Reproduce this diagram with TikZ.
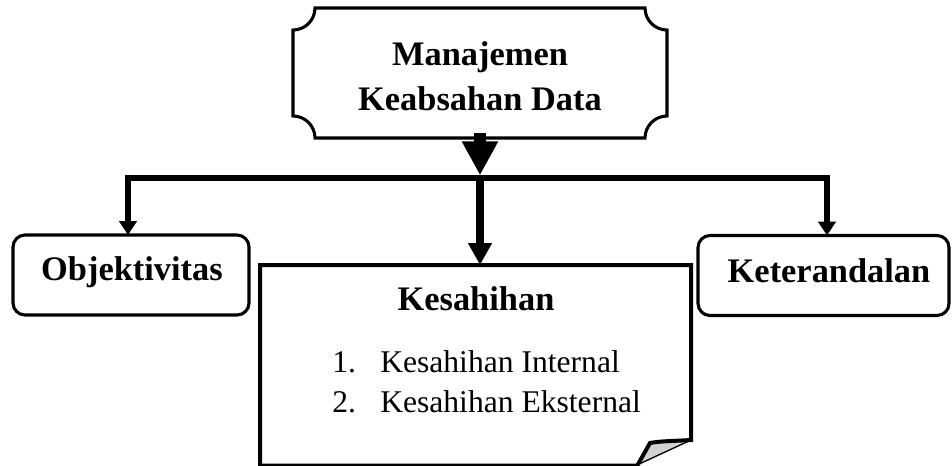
\documentclass[tikz,border=0pt]{standalone}
\usepackage{fontspec}
\setmainfont{Liberation Serif}
\usetikzlibrary{arrows.meta}
\begin{document}
\begin{tikzpicture}[x=0.75pt,y=-0.75pt,
  sidebox/.style={draw, line width=2.3pt, rounded corners=9pt, minimum height=60pt, inner sep=0pt, outer sep=0pt},
  ghost/.style={inner sep=0pt, outer sep=0pt},
  boldlbl/.style={font=\fontsize{25.8}{30}\selectfont\bfseries, anchor=base, inner sep=0pt},
  plainlbl/.style={font=\fontsize{23.7}{28}\selectfont, anchor=base west, inner sep=0pt},
  trunk/.style={line width=4pt},
  sidetip/.style={-{Triangle[length=10.5pt,width=13pt]}}]
\useasboundingbox (0,0) rectangle (952,465);

% top plaque
\node[ghost, minimum width=280.5pt, minimum height=97.5pt] (mkd) at (480,73) {};
\draw[line width=2.3pt]
  (315,8) -- (645,8)
  .. controls (645,20.1) and (654.9,30) .. (667,30) -- (667,116)
  .. controls (654.9,116) and (645,125.9) .. (645,138) -- (315,138)
  .. controls (315,125.9) and (305.1,116) .. (293,116) -- (293,30)
  .. controls (305.1,30) and (315,20.1) .. (315,8) -- cycle;
\node[boldlbl] (mkdA) at (480,65) {Manajemen};
\node[boldlbl] (mkdB) at (480,110) {Keabsahan Data};

% side boxes
\node[sidebox, minimum width=177pt] (obj) at (131,275) {};
\node[boldlbl] (objt) at (132,280) {Objektivitas};
\node[sidebox, minimum width=188.25pt] (ket) at (823.5,275.5) {};
\node[boldlbl] (kett) at (829,282) {Keterandalan};

% Kesahihan page
\node[ghost, minimum width=323.25pt, minimum height=150pt] (kes) at (475.5,365) {};
\fill[gray!35] (650,443) -- (637,465) -- (691,440) .. controls (675,441) and (660,441) .. (650,443);
\draw[line width=1pt] (637,465) -- (691,440);
\draw[line width=3pt, line join=miter] (637,465.5) -- (260,465.5) -- (260,265) -- (691,265) -- (691,440)
  .. controls (675,441) and (660,441) .. (650,443) -- (637,466);
\node[boldlbl] (kest) at (476,310) {Kesahihan};
\node[plainlbl] (n1) at (332,372) {1.};
\node[plainlbl] (i1) at (380,372) {Kesahihan Internal};
\node[plainlbl] (n2) at (332,412) {2.};
\node[plainlbl] (i2) at (380,412) {Kesahihan Eksternal};

% connectors
\coordinate (hub) at (480,178);
\draw[trunk, sidetip] (hub) -| ([xshift=-2.25pt]obj.north);
\draw[trunk, sidetip] (hub) -| ([xshift=2.6pt]ket.north);
\draw[line width=5.5pt, -{Triangle[length=16.5pt,width=17pt]}] (hub) -- (hub |- kes.north);
\draw[line width=9pt, -{Triangle[length=25.5pt,width=25.5pt]}] ([yshift=3.75pt]mkd.south) -- ([yshift=2pt]hub);
\end{tikzpicture}
\end{document}
